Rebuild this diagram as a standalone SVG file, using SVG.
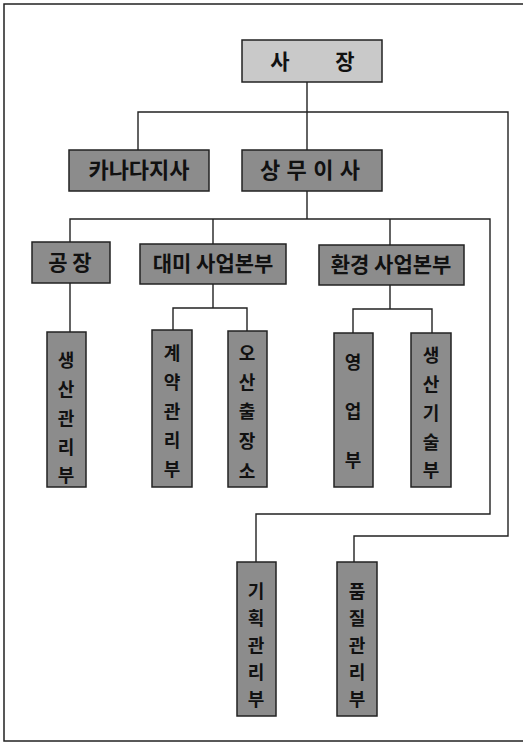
<svg xmlns="http://www.w3.org/2000/svg" width="523" height="743" viewBox="0 0 523 743">
<style>
.bg{fill:#ffffff}
.frame{fill:none;stroke:#222;stroke-width:1.5}
.light{fill:#c9c9c9;stroke:#222;stroke-width:1.5}
.dark{fill:#8c8c8c;stroke:#222;stroke-width:1.5}
.t{font-family:"Noto Sans CJK KR","Noto Sans",sans-serif;font-weight:bold;font-size:21px;fill:#111;text-anchor:middle}
.s{font-size:18px}
.c{fill:none;stroke:#222;stroke-width:1.4}
</style>
<rect class="bg" x="0" y="0" width="523" height="743"/>
<rect class="frame" x="4" y="4" width="530" height="737"/>
<g id="connectors">
<path class="c" d="M307,82 V150"/>
<path class="c" d="M138,150 V112 H508 V536 H354 V562"/>
<path class="c" d="M307,191 V219"/>
<path class="c" d="M70,242 V219 H490 V514 H256 V562"/>
<path class="c" d="M213,219 V244"/>
<path class="c" d="M390,219 V245"/>
<path class="c" d="M70,283 V332"/>
<path class="c" d="M213,284 V308"/>
<path class="c" d="M173,330 V308 H247 V331"/>
<path class="c" d="M390,285 V309"/>
<path class="c" d="M353,333 V309 H432 V333"/>
</g>
<g id="n-president">
<rect class="light" x="242" y="40" width="140" height="42"/>
<text class="t" y="69"><tspan x="280">사</tspan><tspan x="345">장</tspan></text>
</g>
<g id="n-canada">
<rect class="dark" x="69" y="150" width="140" height="41"/>
<text class="t" x="139" y="178" style="font-size:22px">카나다지사</text>
</g>
<g id="n-director">
<rect class="dark" x="242" y="150" width="140" height="41"/>
<text class="t" x="310" y="178" style="font-size:22px" textLength="100" lengthAdjust="spacing">상무이사</text>
</g>
<g id="n-factory">
<rect class="dark" x="32" y="242" width="78" height="41"/>
<text class="t" x="70" y="270">공 장</text>
</g>
<g id="n-daemi">
<rect class="dark" x="140" y="244" width="146" height="40"/>
<text class="t" x="213" y="271">대미 사업본부</text>
</g>
<g id="n-env">
<rect class="dark" x="319" y="245" width="145" height="40"/>
<text class="t" x="391" y="272">환경 사업본부</text>
</g>
<g id="n-prodmgmt">
<rect class="dark" x="47" y="332" width="39" height="155"/>
<text class="t s"><tspan x="66" y="367">생</tspan><tspan x="66" y="396">산</tspan><tspan x="66" y="425">관</tspan><tspan x="66" y="454">리</tspan><tspan x="66" y="482">부</tspan></text>
</g>
<g id="n-contract">
<rect class="dark" x="152" y="330" width="40" height="157"/>
<text class="t s"><tspan x="172" y="360">계</tspan><tspan x="172" y="389">약</tspan><tspan x="172" y="418">관</tspan><tspan x="172" y="447">리</tspan><tspan x="172" y="476">부</tspan></text>
</g>
<g id="n-osan">
<rect class="dark" x="228" y="331" width="39" height="156"/>
<text class="t s"><tspan x="247" y="360">오</tspan><tspan x="247" y="389">산</tspan><tspan x="247" y="418">출</tspan><tspan x="247" y="448">장</tspan><tspan x="247" y="478">소</tspan></text>
</g>
<g id="n-sales">
<rect class="dark" x="334" y="333" width="39" height="154"/>
<text class="t s"><tspan x="353" y="369">영</tspan><tspan x="353" y="418">업</tspan><tspan x="353" y="467">부</tspan></text>
</g>
<g id="n-prodtech">
<rect class="dark" x="411" y="333" width="40" height="154"/>
<text class="t s"><tspan x="431" y="362">생</tspan><tspan x="431" y="391">산</tspan><tspan x="431" y="420">기</tspan><tspan x="431" y="449">술</tspan><tspan x="431" y="477">부</tspan></text>
</g>
<g id="n-planning">
<rect class="dark" x="237" y="562" width="39" height="154"/>
<text class="t s"><tspan x="256" y="598">기</tspan><tspan x="256" y="625">획</tspan><tspan x="256" y="652">관</tspan><tspan x="256" y="679">리</tspan><tspan x="256" y="706">부</tspan></text>
</g>
<g id="n-quality">
<rect class="dark" x="337" y="562" width="40" height="154"/>
<text class="t s"><tspan x="357" y="598">품</tspan><tspan x="357" y="625">질</tspan><tspan x="357" y="652">관</tspan><tspan x="357" y="679">리</tspan><tspan x="357" y="706">부</tspan></text>
</g>
</svg>
